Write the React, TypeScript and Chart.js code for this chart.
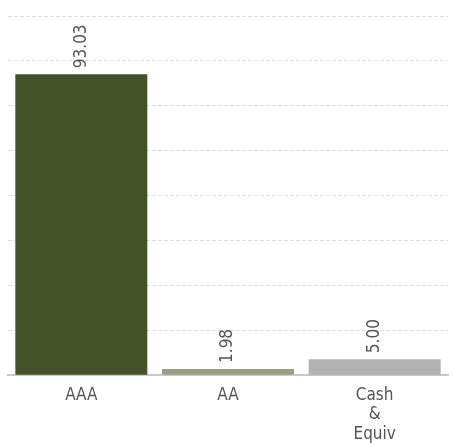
import React, { useEffect, useRef } from "react";
import { Chart, registerables } from "chart.js";

Chart.register(...registerables);

const categories: (string | string[])[] = ["AAA", "AA", ["Cash", "&", "Equiv"]];
const values: number[] = [93.03, 1.98, 5.0];
const valueLabels: string[] = ["93.03", "1.98", "5.00"];
const barColors: string[] = ["#44522a", "#9b9e84", "#b2b2b2"];
const yMax = 111;
const gridCount = 9;

const FONT = '"DejaVu Sans Condensed", "Liberation Sans Narrow", sans-serif';

const valueLabelPlugin = {
  id: "valueLabels",
  afterDatasetsDraw(chart: any) {
    const ctx = chart.ctx;
    const meta = chart.getDatasetMeta(0);
    meta.data.forEach((bar: any, i: number) => {
      ctx.save();
      ctx.translate(bar.x, bar.y - 6);
      ctx.rotate(-Math.PI / 2);
      ctx.font = `17px ${FONT}`;
      ctx.fillStyle = "#555555";
      ctx.textAlign = "left";
      ctx.textBaseline = "middle";
      ctx.fillText(valueLabels[i], 0, 0);
      ctx.restore();
    });
  },
};

export default function App() {
  const ref = useRef<HTMLCanvasElement | null>(null);
  useEffect(() => {
    if (!ref.current) return;
    const chart = new Chart(ref.current, {
      type: "bar",
      data: {
        labels: categories,
        datasets: [
          {
            data: values,
            backgroundColor: barColors,
            borderWidth: 0,
            categoryPercentage: 0.9,
            barPercentage: 1,
          },
        ],
      },
      plugins: [valueLabelPlugin],
      options: {
        animation: false,
        responsive: true,
        maintainAspectRatio: false,
        layout: { padding: { left: 8, right: 6, top: 16, bottom: 0 } },
        plugins: {
          legend: { display: false },
          tooltip: { enabled: false },
        },
        scales: {
          x: {
            grid: { display: false },
            border: { display: true, color: "#c8c8c8", width: 2 },
            ticks: {
              color: "#555555",
              font: { family: FONT, size: 17, lineHeight: 1.15 },
              padding: 2,
              maxRotation: 0,
              autoSkip: false,
            },
          },
          y: {
            min: 0,
            max: yMax,
            border: { display: false, dash: [4, 2] },
            grid: { color: "#dddddd", lineWidth: 1, drawTicks: false },
            ticks: { display: false, count: gridCount },
          },
        },
      },
    });
    return () => chart.destroy();
  }, []);
  return (
    <div style={{ position: "absolute", left: 0, top: 0, width: 454, height: 446, overflow: "hidden" }}>
      <canvas ref={ref} />
    </div>
  );
}
